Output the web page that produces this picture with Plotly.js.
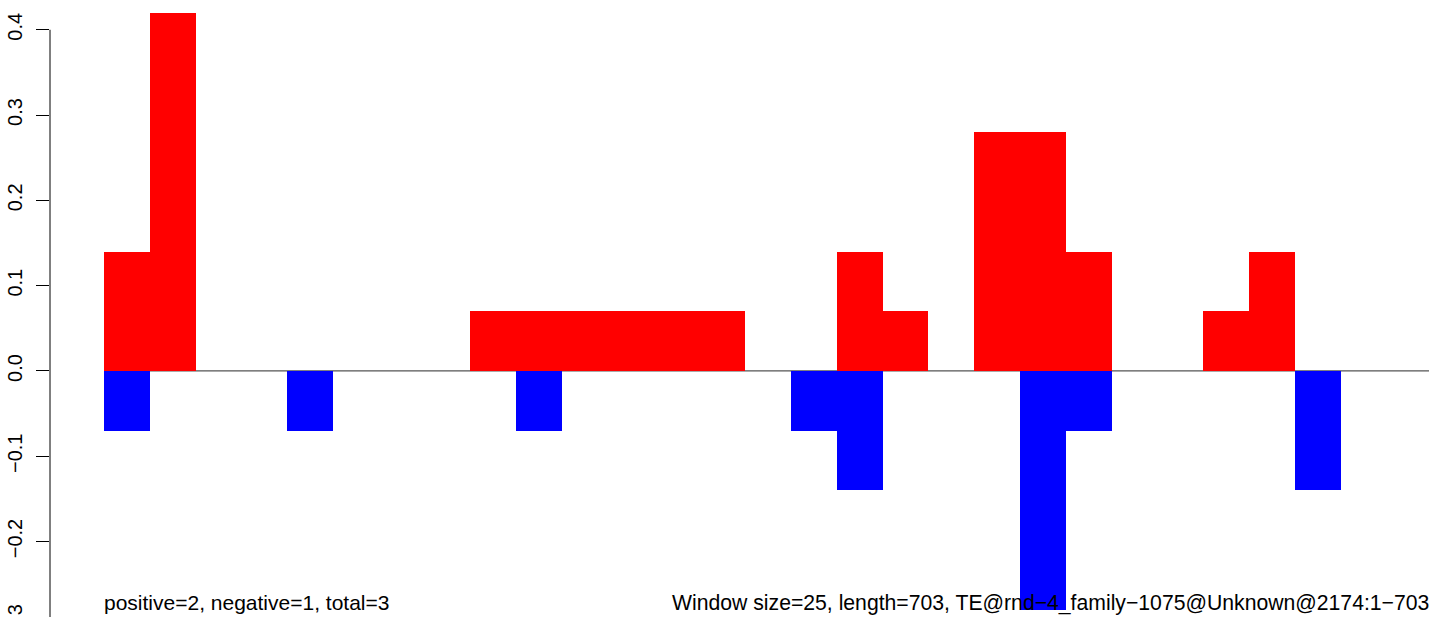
<!DOCTYPE html>
<html>
<head>
<meta charset="utf-8">
<script src="https://cdn.plot.ly/plotly-3.0.1.min.js"></script>
<style>
html, body { margin: 0; padding: 0; overflow: hidden; background: #fff; }
#chart { width: 1429px; height: 660px; }
</style>
</head>
<body>
<div id="chart"></div>
<script>
// Window index (window size 25 over length 703)
const windows = [1,2,3,4,5,6,7,8,9,10,11,12,13,14,15,16,17,18,19,20,21,22,23,24,25,26,27,28,29];
// Positive-strand fraction per window
const positiveValues = [0.14,0.42,0,0,0,0,0,0,0.07,0.07,0.07,0.07,0.07,0.07,0,0,0.14,0.07,0,0.28,0.28,0.14,0,0,0.07,0.14,0,0,0];
// Negative-strand fraction per window
const negativeValues = [-0.07,0,0,0,-0.07,0,0,0,0,-0.07,0,0,0,0,0,-0.07,-0.14,0,0,0,-0.28,-0.07,0,0,0,0,-0.14,0,0];
// Y tick values and labels
const yTickVals = [-0.3,-0.2,-0.1,0.0,0.1,0.2,0.3,0.4];
const yTickText = ['\u22120.3','\u22120.2','\u22120.1','0.0','0.1','0.2','0.3','0.4'];
const leftText = 'positive=2, negative=1, total=3';
const rightText = 'Window size=25, length=703, TE@rnd\u22124_family\u22121075@Unknown@2174:1\u2212703';

const traces = [
  { type: 'bar', x: windows, y: positiveValues, width: 1,
    marker: { color: '#ff0000', line: { width: 0 } }, hoverinfo: 'x+y' },
  { type: 'bar', x: windows, y: negativeValues, width: 1,
    marker: { color: '#0000ff', line: { width: 0 } }, hoverinfo: 'x+y' }
];

const layout = {
  width: 1429, height: 660,
  margin: { l: 50, r: 0, t: 0, b: 20, pad: 0 },
  paper_bgcolor: '#ffffff', plot_bgcolor: '#ffffff',
  barmode: 'overlay', bargap: 0,
  showlegend: false,
  font: { family: 'Liberation Sans, Arial, sans-serif', color: '#000' },
  xaxis: { visible: false, range: [-0.679, 29.43], fixedrange: true },
  yaxis: {
    range: [-0.3154, 0.4349],
    tickvals: yTickVals, ticktext: yTickText,
    ticks: 'outside', ticklen: 13, tickwidth: 1, tickcolor: '#000',
    tickangle: -90, ticklabelstandoff: 6,
    tickfont: { size: 20, family: 'Liberation Sans, Arial, sans-serif', color: '#000' },
    showline: false, showgrid: false, zeroline: false,
    fixedrange: true
  },
  shapes: [
    { type: 'line', xref: 'paper', yref: 'y', x0: 0, x1: 0, y0: -0.3, y1: 0.4,
      line: { color: '#000', width: 1 } },
    { type: 'line', xref: 'x', yref: 'y', x0: 0.5, x1: 40, y0: 0, y1: 0, layer: 'below',
      line: { color: '#555555', width: 1.3 } }
  ],
  annotations: [
    { xref: 'x', yref: 'y', x: 0.5, y: -0.272, xanchor: 'left', yanchor: 'middle',
      text: leftText, showarrow: false, borderpad: 0, borderwidth: 0,
      font: { size: 21, family: 'Liberation Sans, Arial, sans-serif', color: '#000' } },
    { xref: 'paper', yref: 'y', x: 1, y: -0.272, xanchor: 'right', yanchor: 'middle',
      text: rightText, showarrow: false, borderpad: 0, borderwidth: 0,
      font: { size: 21.2, family: 'Liberation Sans, Arial, sans-serif', color: '#000' } }
  ]
};

Plotly.newPlot('chart', traces, layout, { displayModeBar: false, staticPlot: true });
</script>
</body>
</html>
